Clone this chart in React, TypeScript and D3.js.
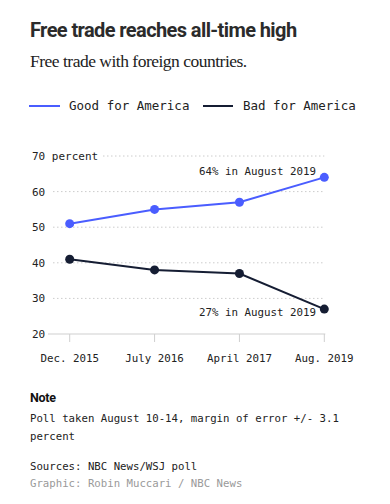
import React from "react";
import * as d3 from "d3";

const categories = ["Dec. 2015", "July 2016", "April 2017", "Aug. 2019"];
const goodValues = [51, 55, 57, 64];
const badValues = [41, 38, 37, 27];
const yTicks = [20, 30, 40, 50, 60, 70];
const seriesNames = ["Good for America", "Bad for America"];
const colors = ["#4a5dff", "#151d33"];

const MONO = "'DejaVu Sans Mono', 'Liberation Mono', monospace";
const SANS = "Roboto, 'Noto Sans', sans-serif";
const SERIF = "'Liberation Serif', 'DejaVu Serif', serif";

export default function App() {
  const W = 390, H = 504;
  const x = d3.scalePoint<string>().domain(categories).range([69.7, 324.3]);
  const y = d3.scaleLinear().domain([20, 70]).range([334, 156]);
  const line = d3
    .line<number>()
    .x((_, i) => x(categories[i]) as number)
    .y((d) => y(d));
  const series = [goodValues, badValues];
  const lastX = x(categories[categories.length - 1]) as number;

  return (
    <svg
      width={W}
      height={H}
      style={{ position: "absolute", left: 0, top: 0, background: "#fff" }}
    >
      <text x={30} y={37} fontFamily={SANS} fontWeight={700} fontSize={20} fill="#2b2b2b" letterSpacing={-0.6}>
        Free trade reaches all-time high
      </text>
      <text x={30} y={67} fontFamily={SERIF} fontSize={17.5} fill="#222" letterSpacing={-0.5}>
        Free trade with foreign countries.
      </text>

      {/* legend */}
      <g fontFamily={MONO} fontSize={12.5} fill="#222">
        <line x1={29} x2={60} y1={106} y2={106} stroke={colors[0]} strokeWidth={2} />
        <text x={69} y={110}>{seriesNames[0]}</text>
        <line x1={203} x2={233} y1={106} y2={106} stroke={colors[1]} strokeWidth={2} />
        <text x={243} y={110}>{seriesNames[1]}</text>
      </g>

      {/* grid */}
      {yTicks.map((t) => (
        <g key={t}>
          {t === 20 ? (
            <line x1={48} x2={lastX + 1} y1={y(t)} y2={y(t)} stroke="#cfcfcf" strokeWidth={1} />
          ) : (
            <line
              x1={t === 70 ? 103 : 53}
              x2={lastX}
              y1={y(t)}
              y2={y(t)}
              stroke="#cccccc"
              strokeWidth={1}
              strokeDasharray="1.5,2.5"
            />
          )}
          <text x={32} y={y(t) + 4} fontFamily={MONO} fontSize={11} fill="#222">
            {t === 70 ? "70 percent" : String(t)}
          </text>
        </g>
      ))}

      {/* x ticks */}
      {categories.map((c) => (
        <g key={c}>
          <line x1={x(c)} x2={x(c)} y1={y(20)} y2={y(20) + 8} stroke="#cfcfcf" />
          <text x={x(c)} y={362} textAnchor="middle" fontFamily={MONO} fontSize={10.8} fill="#222">
            {c}
          </text>
        </g>
      ))}

      {/* lines */}
      {series.map((s, si) => (
        <g key={si}>
          <path d={line(s) || ""} fill="none" stroke={colors[si]} strokeWidth={2} />
          {s.map((v, i) => (
            <circle key={i} cx={x(categories[i])} cy={y(v)} r={4.5} fill={colors[si]} />
          ))}
        </g>
      ))}

      {/* annotations */}
      <g fontFamily={MONO} fontSize={10.8} fill="#222" textAnchor="end">
        <text x={316} y={175}>{`${goodValues[3]}% in August 2019`}</text>
        <text x={316} y={316}>{`${badValues[3]}% in August 2019`}</text>
      </g>

      {/* notes */}
      <text x={30} y={402} fontFamily={SANS} fontWeight={700} fontSize={12.5} fill="#111" letterSpacing={-0.3}>
        Note
      </text>
      <g fontFamily={MONO} fontSize={10.7} fill="#222">
        <text x={30} y={422}>Poll taken August 10-14, margin of error +/- 3.1</text>
        <text x={30} y={440}>percent</text>
        <text x={30} y={470}>Sources: NBC News/WSJ poll</text>
        <text x={30} y={487} fill="#9a9a9a">Graphic: Robin Muccari / NBC News</text>
      </g>
    </svg>
  );
}
